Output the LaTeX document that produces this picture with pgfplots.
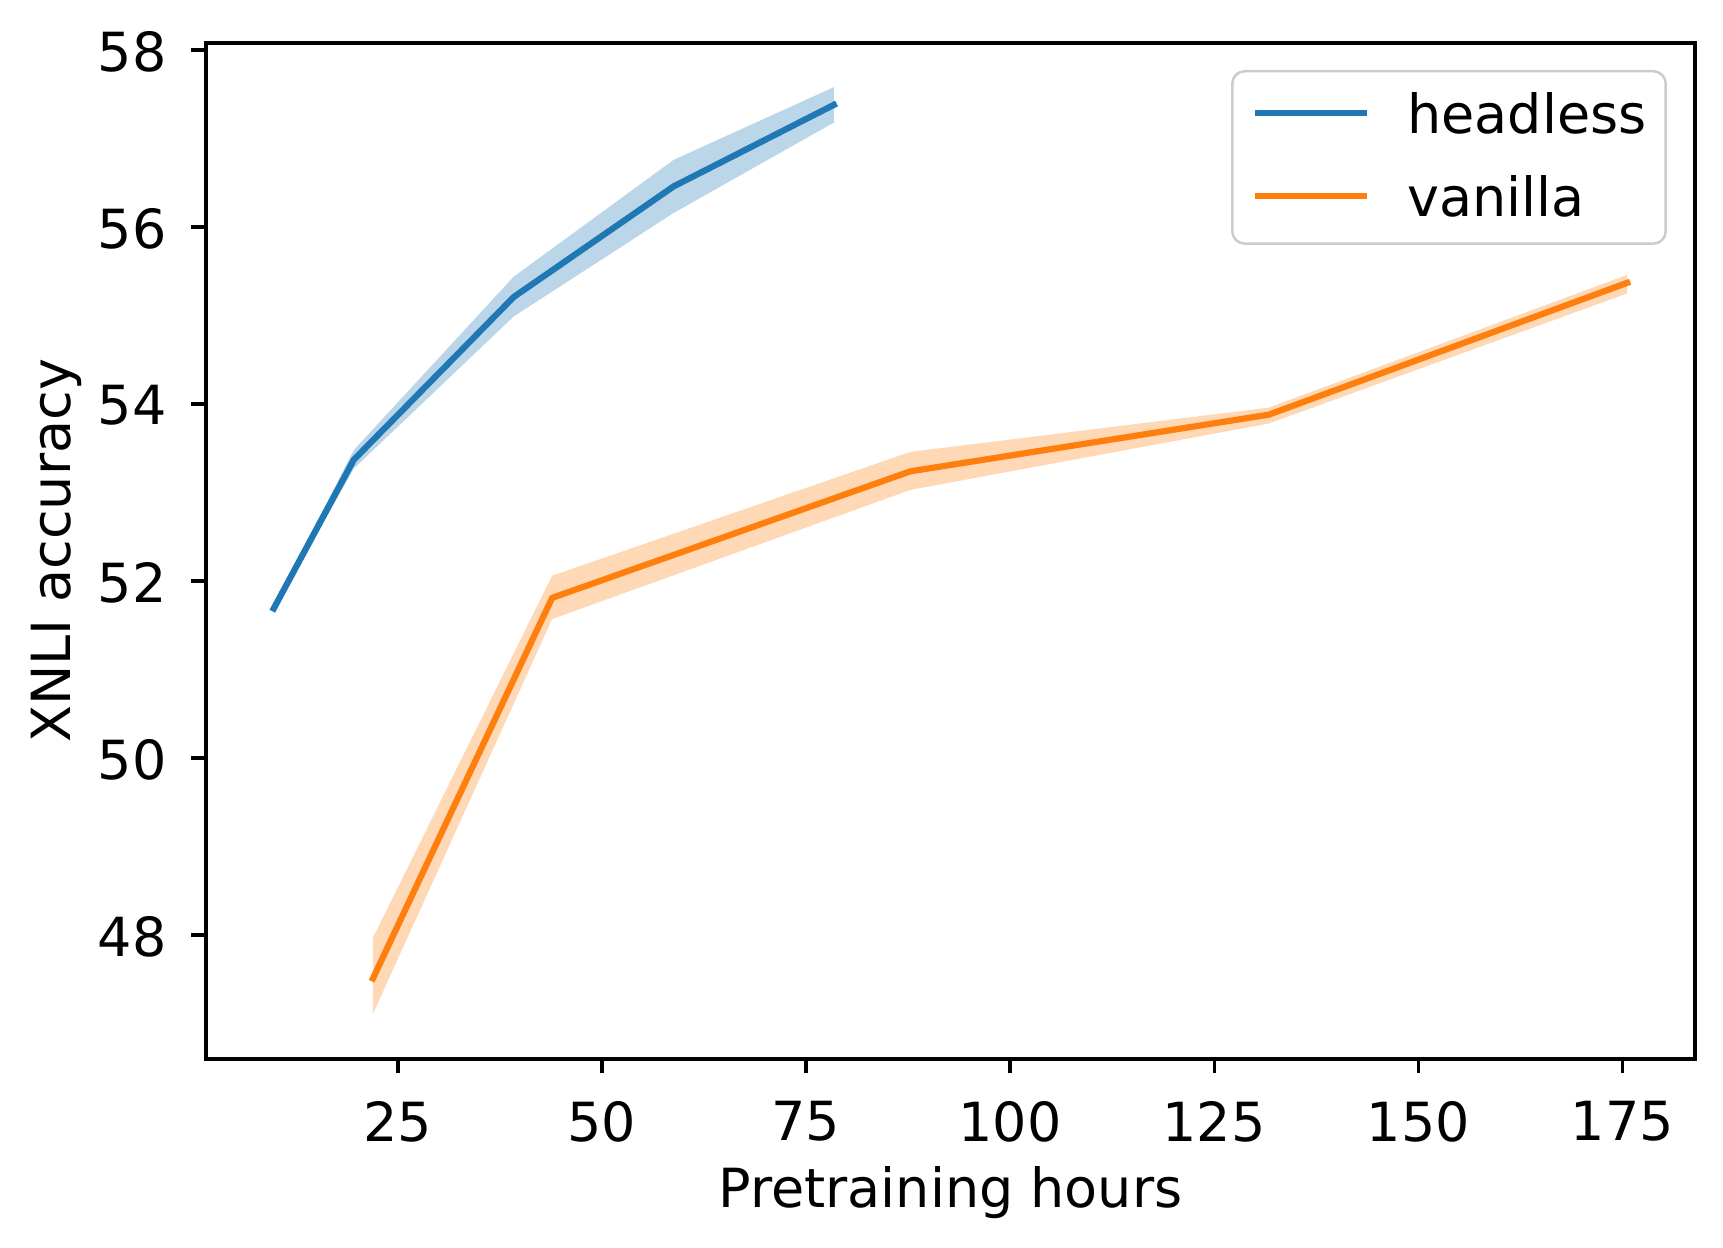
\documentclass[border=0pt]{standalone}
\usepackage{fontspec}
\setmainfont{DejaVu Sans}
\usepackage{pgfplots}
\pgfplotsset{compat=1.18}
\definecolor{tabblue}{HTML}{1F77B4}
\definecolor{taborange}{HTML}{FF7F0E}
\newcommand{\fs}{\fontsize{13pt}{15.5pt}\selectfont}
\begin{document}
\begin{tikzpicture}
\useasboundingbox (-49.63pt,-45.53pt) rectangle (365.45pt,255.1pt);
\begin{axis}[
  at={(0,0)}, anchor=south west,
  scale only axis, width=358.7pt, height=244.75pt,
  xmin=1.5, xmax=183.9, ymin=46.6, ymax=58.08,
  xtick={25,50,75,100,125,150,175}, ytick={48,50,52,54,56,58},
  tick align=outside, major tick length=3.5pt, tick pos=left,
  every tick/.style={black, line width=0.8pt},
  axis line style={line width=0.8pt},
  /pgf/number format/assume math mode=true,
  tick label style={font=\fs},
  xticklabel style={anchor=north, inner sep=0pt, yshift=-6.55pt},
  yticklabel style={anchor=east, inner sep=0pt, xshift=-5.8pt, yshift=-0.4pt},
  xlabel={Pretraining hours},
  xlabel style={at={(axis description cs:0.5,-0.14627)}, anchor=base, inner sep=0pt, font=\fs},
  ylabel={XNLI accuracy},
  ylabel style={at={(axis description cs:-0.09133,0.5)}, anchor=base, inner sep=0pt, font=\fs},
  legend cell align=left,
  legend image code/.code={\draw[#1, line width=1.5pt, line cap=butt] (0pt,0.7pt) -- (27.2pt,0.7pt);},
  legend style={at={(1,1)}, anchor=north east, xshift=-6.75pt, yshift=-6.5pt,
    draw=black!20, line width=0.6pt, rounded corners=3pt, fill=white, fill opacity=0.8,
    draw opacity=1, text opacity=1, inner xsep=4.6pt, inner ysep=4pt,
    row sep=6.15pt, column sep=8.9pt, font=\fs,
    nodes={inner sep=0pt, text height=11.1pt, text depth=2.6pt}},
]
\addplot[draw=none, fill=tabblue, fill opacity=0.3, forget plot] coordinates {
  (9.8,51.71) (19.6,53.48) (39.2,55.44) (58.8,56.76) (78.4,57.58)
  (78.4,57.18) (58.8,56.16) (39.2,54.99) (19.6,53.27) (9.8,51.67)} -- cycle;
\addplot[tabblue, line width=1.5pt, line join=round, line cap=rect] coordinates {
  (9.8,51.69) (19.6,53.37) (39.2,55.21) (58.8,56.46) (78.4,57.38)};
\addlegendentry{headless}
\addplot[draw=none, fill=taborange, fill opacity=0.3, forget plot] coordinates {
  (21.95,47.97) (43.9,52.06) (87.8,53.46) (131.7,53.96) (175.6,55.46)
  (175.6,55.25) (131.7,53.78) (87.8,53.03) (43.9,51.57) (21.95,47.11)} -- cycle;
\addplot[taborange, line width=1.5pt, line join=round, line cap=rect] coordinates {
  (21.95,47.51) (43.9,51.81) (87.8,53.24) (131.7,53.88) (175.6,55.37)};
\addlegendentry{vanilla}
\end{axis}
\end{tikzpicture}
\end{document}
